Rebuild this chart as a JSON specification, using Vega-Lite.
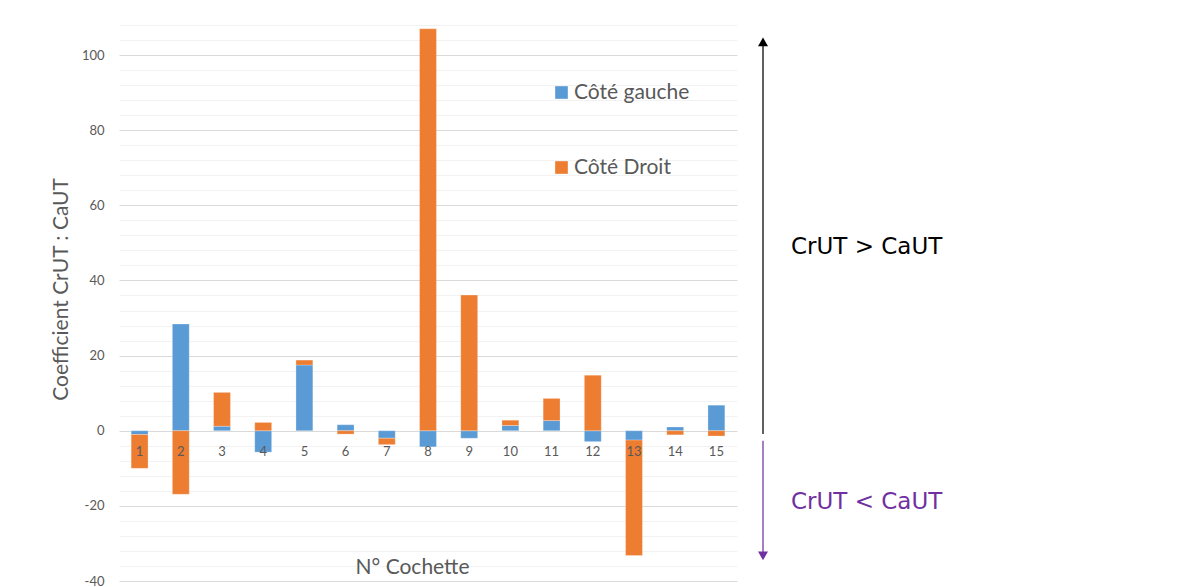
{
  "$schema": "https://vega.github.io/schema/vega-lite/v6.json",
  "padding": {"left": 50, "top": 19, "right": 0, "bottom": 0},
  "background": "white",
  "config": {"view": {"stroke": null}, "font": "Lato"},
  "spacing": 10,
  "resolve": {"scale": {"color": "independent", "shape": "independent"}, "legend": {"color": "independent", "shape": "independent"}},
  "hconcat": [
    {
      "width": 618,
      "height": 556,
      "data": {"values": [
        {"cochette": 1, "side": "Côté gauche", "value": -1.0},
        {"cochette": 1, "side": "Côté Droit", "value": -9.0},
        {"cochette": 2, "side": "Côté gauche", "value": 28.4},
        {"cochette": 2, "side": "Côté Droit", "value": -16.9},
        {"cochette": 3, "side": "Côté gauche", "value": 1.2},
        {"cochette": 3, "side": "Côté Droit", "value": 9.0},
        {"cochette": 4, "side": "Côté gauche", "value": -5.7},
        {"cochette": 4, "side": "Côté Droit", "value": 2.2},
        {"cochette": 5, "side": "Côté gauche", "value": 17.5},
        {"cochette": 5, "side": "Côté Droit", "value": 1.3},
        {"cochette": 6, "side": "Côté gauche", "value": 1.6},
        {"cochette": 6, "side": "Côté Droit", "value": -0.9},
        {"cochette": 7, "side": "Côté gauche", "value": -2.0},
        {"cochette": 7, "side": "Côté Droit", "value": -1.7},
        {"cochette": 8, "side": "Côté gauche", "value": -4.3},
        {"cochette": 8, "side": "Côté Droit", "value": 107.0},
        {"cochette": 9, "side": "Côté gauche", "value": -2.0},
        {"cochette": 9, "side": "Côté Droit", "value": 36.1},
        {"cochette": 10, "side": "Côté gauche", "value": 1.4},
        {"cochette": 10, "side": "Côté Droit", "value": 1.4},
        {"cochette": 11, "side": "Côté gauche", "value": 2.7},
        {"cochette": 11, "side": "Côté Droit", "value": 5.9},
        {"cochette": 12, "side": "Côté gauche", "value": -2.9},
        {"cochette": 12, "side": "Côté Droit", "value": 14.8},
        {"cochette": 13, "side": "Côté gauche", "value": -2.5},
        {"cochette": 13, "side": "Côté Droit", "value": -30.7},
        {"cochette": 14, "side": "Côté gauche", "value": 1.0},
        {"cochette": 14, "side": "Côté Droit", "value": -1.1},
        {"cochette": 15, "side": "Côté gauche", "value": 6.8},
        {"cochette": 15, "side": "Côté Droit", "value": -1.4}
      ]},
      "mark": {"type": "bar", "stroke": "white", "strokeWidth": 0.5, "strokeOpacity": 0.5},
      "encoding": {
        "x": {
          "field": "cochette",
          "type": "ordinal",
          "scale": {"paddingInner": 0.59, "paddingOuter": 0.295},
          "axis": {
            "title": "N° Cochette",
            "titleFontSize": 21,
            "titleFontWeight": "normal",
            "titleColor": "#595959",
            "titleY": 122,
            "titleX": 293,
            "titleBaseline": "middle",
            "labelAngle": 0,
            "labelFontSize": 13,
            "labelColor": "#595959",
            "ticks": false,
            "domain": false,
            "offset": -136,
            "labelPadding": 0,
            "zindex": 1
          }
        },
        "y": {
          "field": "value",
          "type": "quantitative",
          "stack": "zero",
          "scale": {"domain": [-40, 108], "nice": false, "zero": false},
          "axis": {
            "title": "Coefficient CrUT : CaUT",
            "titleFontSize": 21,
            "titleFontWeight": "normal",
            "titleColor": "#595959",
            "titlePadding": 10,
            "titleY": 264,
            "values": [-40, -36, -32, -28, -24, -20, -16, -12, -8, -4, 0, 4, 8, 12, 16, 20, 24, 28, 32, 36, 40, 44, 48, 52, 56, 60, 64, 68, 72, 76, 80, 84, 88, 92, 96, 100, 104, 108],
            "labelExpr": "datum.value % 20 === 0 ? toString(datum.value) : ''",
            "labelOverlap": false,
            "labelFontSize": 13,
            "labelColor": "#595959",
            "ticks": false,
            "tickSize": 0,
            "labelPadding": 15,
            "domain": false,
            "gridColor": {"condition": {"test": "datum.value % 20 === 0", "value": "#D9D9D9"}, "value": "#F2F2F2"},
            "gridWidth": 1
          }
        },
        "color": {
          "field": "side",
          "type": "nominal",
          "scale": {"domain": ["Côté gauche", "Côté Droit"], "range": ["#5B9BD5", "#ED7D31"]},
          "legend": {
            "title": null,
            "orient": "none",
            "legendX": 432,
            "legendY": 57,
            "labelFontSize": 21,
            "labelColor": "#595959",
            "symbolType": "square",
            "symbolSize": 160,
            "symbolStrokeWidth": 0,
            "rowPadding": 53,
            "labelOffset": 2,
            "padding": 0
          }
        },
        "order": {"field": "side", "sort": "descending"}
      }
    },
    {
      "width": 250,
      "height": 556,
      "layer": [
        {
          "data": {"values": [
            {"x": 16, "y1": 103.5, "y2": -0.9, "kind": "gt"},
            {"x": 16, "y1": -2.7, "y2": -33.3, "kind": "lt"}
          ]},
          "mark": {"type": "rule", "strokeWidth": 1.25},
          "encoding": {
            "x": {"field": "x", "type": "quantitative", "scale": {"domain": [0, 250]}, "axis": null},
            "y": {"field": "y1", "type": "quantitative", "scale": {"domain": [-40, 108], "nice": false, "zero": false}, "axis": null},
            "y2": {"field": "y2"},
            "color": {"field": "kind", "type": "nominal", "scale": {"domain": ["gt", "lt"], "range": ["#000000", "#7030A0"]}, "legend": null}
          }
        },
        {
          "data": {"values": [
            {"x": 16, "y": 103.5, "kind": "gt", "shape": "up"},
            {"x": 16, "y": -33.3, "kind": "lt", "shape": "down"}
          ]},
          "mark": {"type": "point", "filled": true, "size": 100, "opacity": 1},
          "encoding": {
            "x": {"field": "x", "type": "quantitative", "scale": {"domain": [0, 250]}, "axis": null},
            "y": {"field": "y", "type": "quantitative", "scale": {"domain": [-40, 108], "nice": false, "zero": false}, "axis": null},
            "shape": {"field": "shape", "type": "nominal", "scale": {"domain": ["up", "down"], "range": ["triangle-up", "triangle-down"]}, "legend": null},
            "color": {"field": "kind", "type": "nominal", "scale": {"domain": ["gt", "lt"], "range": ["#000000", "#7030A0"]}, "legend": null}
          }
        },
        {
          "data": {"values": [
            {"x": 44, "y": 48.9, "kind": "gt", "label": "CrUT > CaUT"},
            {"x": 44, "y": -19.0, "kind": "lt", "label": "CrUT < CaUT"}
          ]},
          "mark": {"type": "text", "align": "left", "baseline": "middle", "font": "DejaVu Sans", "fontSize": 23},
          "encoding": {
            "x": {"field": "x", "type": "quantitative", "scale": {"domain": [0, 250]}, "axis": null},
            "y": {"field": "y", "type": "quantitative", "scale": {"domain": [-40, 108], "nice": false, "zero": false}, "axis": null},
            "text": {"field": "label"},
            "color": {"field": "kind", "type": "nominal", "scale": {"domain": ["gt", "lt"], "range": ["#000000", "#7030A0"]}, "legend": null}
          }
        }
      ]
    }
  ]
}
